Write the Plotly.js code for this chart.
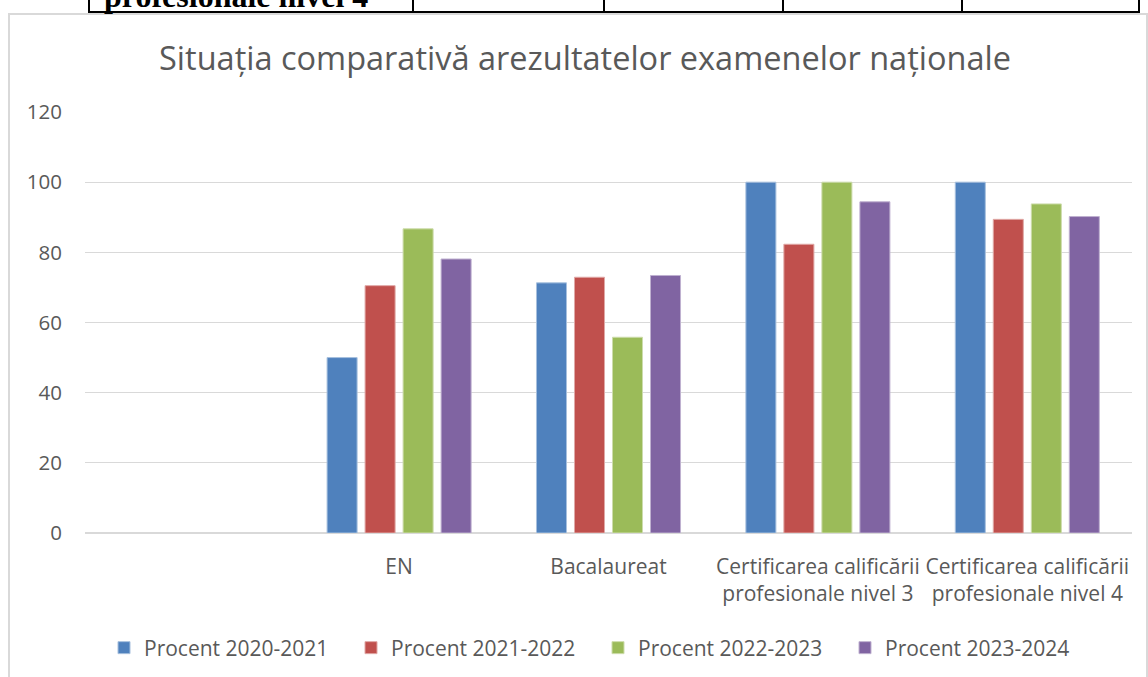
<!DOCTYPE html>
<html>
<head>
<meta charset="utf-8">
<script src="https://cdn.plot.ly/plotly-3.0.1.min.js"></script>
<style>
  html, body { margin: 0; padding: 0; background: #ffffff; }
  #chart { width: 1148px; height: 677px; }
</style>
</head>
<body>
<div id="chart"></div>
<script>
// ---- data ----
const categories = [" ", "EN", "Bacalaureat",
  "Certificarea calificării<br>profesionale nivel 3",
  "Certificarea calificării<br>profesionale nivel 4"];
const seriesNames = ["Procent 2020-2021", "Procent 2021-2022", "Procent 2022-2023", "Procent 2023-2024"];
const procent2020_2021 = [null, 50, 71.3, 100, 100];
const procent2021_2022 = [null, 70.5, 72.9, 82.3, 89.4];
const procent2022_2023 = [null, 86.7, 55.8, 100, 93.8];
const procent2023_2024 = [null, 78.1, 73.4, 94.4, 90.2];
const yTicks = [0, 20, 40, 60, 80, 100, 120];
const chartTitle = "Situația comparativă arezultatelor examenelor naționale";
const tableFragment = "profesionale nivel 4";

// ---- layout helpers (pixel -> paper) ----
const W = 1148, H = 677;
const M = { l: 85, r: 16, t: 112, b: 144 };
const PW = W - M.l - M.r, PH = H - M.t - M.b;
const px = x => (x - M.l) / PW;
const py = y => 1 - (y - M.t) / PH;

const colors = ["#4F81BD", "#C0504D", "#9BBB59", "#8064A2"];
const edge = ["#a7c0de", "#e0a8a6", "#cddcac", "#bfb1d0"];
const allSeries = [procent2020_2021, procent2021_2022, procent2022_2023, procent2023_2024];

const traces = allSeries.map((vals, i) => ({
  type: "bar",
  name: seriesNames[i],
  x: categories,
  y: vals,
  marker: { color: colors[i], line: { color: edge[i], width: 1 } },
  hoverinfo: "x+y+name"
}));

const uiFont = "'Open Sans', 'Noto Sans', sans-serif";

// table fragment above the chart frame
const tableLineX = [89, 413, 604, 783, 962, 1139];
const shapes = [];
// chart frame (light grey)
shapes.push({ type: "rect", xref: "paper", yref: "paper",
  x0: px(9), x1: px(1147), y0: py(14), y1: py(700),
  line: { color: "#d9d9d9", width: 2 }, fillcolor: "rgba(0,0,0,0)", layer: "below" });
// table bottom border
shapes.push({ type: "line", xref: "paper", yref: "paper",
  x0: px(88), x1: px(1140), y0: py(12), y1: py(12),
  line: { color: "#000000", width: 2 } });
tableLineX.forEach(x => shapes.push({ type: "line", xref: "paper", yref: "paper",
  x0: px(x), x1: px(x), y0: py(-5), y1: py(12),
  line: { color: "#000000", width: 2 } }));

const layout = {
  width: W, height: H,
  margin: M,
  paper_bgcolor: "#ffffff",
  plot_bgcolor: "#ffffff",
  title: {
    text: chartTitle,
    font: { family: uiFont, size: 32.5, color: "#595959" },
    x: 585 / W, xanchor: "center",
    y: 1 - 59 / H, yanchor: "middle"
  },
  barmode: "group",
  bargap: 0.274,
  bargroupgap: 0.21,
  showlegend: true,
  legend: {
    orientation: "h",
    xref: "container", yref: "container",
    x: 104 / W, xanchor: "left",
    y: 1 - 648 / H, yanchor: "middle",
    font: { family: uiFont, size: 21, color: "#595959" },
    entrywidth: 202, entrywidthmode: "pixels",
    traceorder: "normal",
    bgcolor: "rgba(0,0,0,0)"
  },
  xaxis: {
    type: "category",
    categoryorder: "array",
    categoryarray: categories,
    range: [-0.5, 4.5],
    tickangle: 0,
    tickfont: { family: uiFont, size: 21, color: "#595959" },
    showgrid: false,
    showline: false,
    zeroline: false,
    ticks: "",
    ticklabelstandoff: 19,
    automargin: false,
    fixedrange: true
  },
  yaxis: {
    range: [0, 120],
    tickvals: yTicks,
    ticktext: yTicks.map(String),
    tickfont: { family: uiFont, size: 20.5, color: "#595959" },
    showgrid: true,
    gridcolor: "#d9d9d9",
    gridwidth: 1.3,
    zeroline: true,
    zerolinecolor: "#d9d9d9",
    zerolinewidth: 1.3,
    showline: false,
    ticks: "",
    ticklabelstandoff: 22,
    automargin: false,
    fixedrange: true
  },
  shapes: shapes,
  annotations: [{
    xref: "paper", yref: "paper",
    x: px(102), xanchor: "left",
    y: py(16), yanchor: "bottom",
    text: "<b>" + tableFragment + "</b>",
    showarrow: false,
    font: { family: "'Liberation Serif', 'Times New Roman', serif", size: 32, color: "#000000" }
  }]
};

Plotly.newPlot("chart", traces, layout, { displayModeBar: false, staticPlot: true });
</script>
</body>
</html>
